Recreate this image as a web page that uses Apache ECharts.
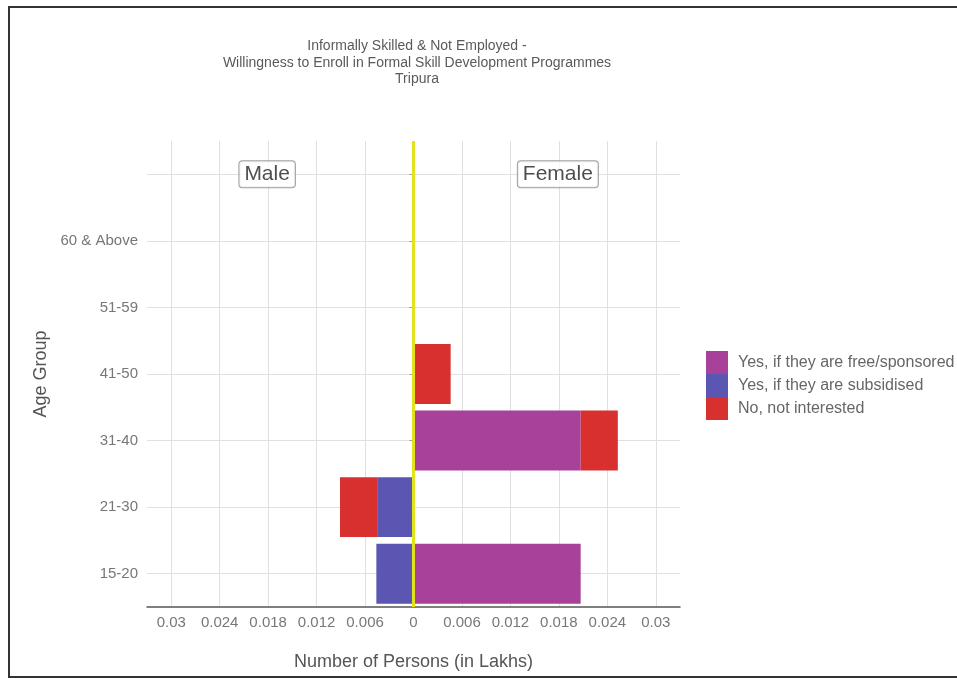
<!DOCTYPE html>
<html><head><meta charset="utf-8">
<script src="https://cdn.jsdelivr.net/npm/echarts@6/dist/echarts.min.js"></script>
<style>html,body{margin:0;padding:0;background:#fff}#c{width:957px;height:678px}</style>
</head><body><div id="c"></div>
<script>
const titleLines = ['Informally Skilled & Not Employed -', 'Willingness to Enroll in Formal Skill Development Programmes', 'Tripura'];
const ageGroups = ['15-20', '21-30', '31-40', '41-50', '51-59', '60 & Above', ''];
const responses = ['Yes, if they are free/sponsored', 'Yes, if they are subsidised', 'No, not interested'];
const colors = ['#a8419a', '#5a56b2', '#d8302f'];
// values in lakhs (male shown to the left)
const maleFree          = [null,   null,   null,   null,   null, null, null];
const maleSubsidised    = [0.0046, 0.0045, null,   null,   null, null, null];
const maleNotInterested = [null,   0.0046, null,   null,   null, null, null];
const femaleFree          = [0.0207, null, 0.0207, null,   null, null, null];
const femaleSubsidised    = [null,   null, null,   null,   null, null, null];
const femaleNotInterested = [null,   null, 0.0046, 0.0046, null, null, null];
const xTickValues = [-0.03, -0.024, -0.018, -0.012, -0.006, 0, 0.006, 0.012, 0.018, 0.024, 0.03];
const xLimit = 0.033;
const panelLabels = ['Male', 'Female'];
const panelLabelX = [-0.018, 0.018];
const panelLabelRow = 6;
const xTitle = 'Number of Persons (in Lakhs)';
const yTitle = 'Age Group';

const FONT = '"Liberation Sans", Arial, sans-serif';
const neg = a => a.map(v => v == null ? null : -v);
const maleData = [maleFree, maleSubsidised, maleNotInterested];
const femaleData = [femaleFree, femaleSubsidised, femaleNotInterested];

const series = [];
for (let i = 0; i < 3; i++) {
  series.push({ name: responses[i], type: 'bar', stack: 'all', data: neg(maleData[i]),
    itemStyle: { color: colors[i] }, barCategoryGap: '10%', silent: true });
  series.push({ name: responses[i], type: 'bar', stack: 'all', data: femaleData[i],
    itemStyle: { color: colors[i] }, barCategoryGap: '10%', silent: true });
}
series.push({ type: 'line', data: [], z: 10, silent: true,
  markLine: { silent: true, symbol: 'none', label: { show: false },
    lineStyle: { color: '#e3e31c', width: 3, type: 'solid' },
    data: [{ xAxis: 0 }] } });
series.push({ type: 'scatter', z: 11, silent: true, symbolSize: 1,
  itemStyle: { color: 'rgba(0,0,0,0)' },
  data: panelLabels.map((n, i) => ({ name: n, value: [panelLabelX[i], panelLabelRow] })),
  label: { show: true, position: 'inside', formatter: p => p.name,
    fontFamily: FONT, fontSize: 21, color: '#222', backgroundColor: '#fff',
    borderColor: '#888', borderWidth: 1, borderRadius: 3, padding: [3, 5, 2, 5], offset: [-1, 0] } });

const chart = echarts.init(document.getElementById('c'));
chart.setOption({
  animation: false,
  backgroundColor: '#fff',
  textStyle: { fontFamily: FONT },
  title: { text: titleLines.join('\n'), left: 412, textAlign: 'center', top: 33,
    textStyle: { fontFamily: FONT, fontSize: 14, fontWeight: 'normal', color: '#5a5a5a', lineHeight: 16.5 } },
  graphic: [{ type: 'rect', shape: { x: 9, y: 7, width: 960, height: 670 },
    style: { fill: 'none', stroke: '#333', lineWidth: 2 }, silent: true }],
  legend: { data: responses, orient: 'vertical', left: 701, top: 346, icon: 'rect',
    itemWidth: 22, itemHeight: 23, itemGap: 0, selectedMode: false,
    textStyle: { fontFamily: FONT, fontSize: 16, color: '#666', padding: [0, 0, 0, 5] } },
  grid: { left: 147, right: 277, top: 141, bottom: 71 },
  xAxis: { type: 'value', min: -xLimit, max: xLimit,
    name: xTitle, nameLocation: 'middle', nameGap: 46,
    nameTextStyle: { fontFamily: FONT, fontSize: 18, color: '#555' },
    axisLine: { show: true, onZero: false, lineStyle: { color: '#555', width: 1.5 } },
    axisTick: { show: false, customValues: xTickValues },
    axisLabel: { customValues: xTickValues, margin: 8, fontSize: 15, color: '#777',
      formatter: v => String(+Math.abs(v).toFixed(3)) },
    splitLine: { show: true, lineStyle: { color: '#e0e0e0', width: 1 } } },
  yAxis: [
    { type: 'category', data: ageGroups, boundaryGap: true,
      name: yTitle, nameLocation: 'middle', nameGap: 93, nameRotate: 90,
      nameTextStyle: { fontFamily: FONT, fontSize: 18, color: '#555' },
      axisLine: { show: false },
      axisTick: { show: true, alignWithLabel: true, length: 4, lineStyle: { color: '#999' } },
      axisLabel: { margin: 9, fontSize: 15, color: '#777' },
      splitLine: { show: false } },
    { type: 'value', min: -0.5, max: 6.5, position: 'left',
      axisLine: { show: false }, axisLabel: { show: false },
      axisTick: { show: false, customValues: [0, 1, 2, 3, 4, 5, 6] },
      splitLine: { show: true, lineStyle: { color: '#e0e0e0', width: 1 } } }
  ],
  series: series
});
</script>
</body></html>
